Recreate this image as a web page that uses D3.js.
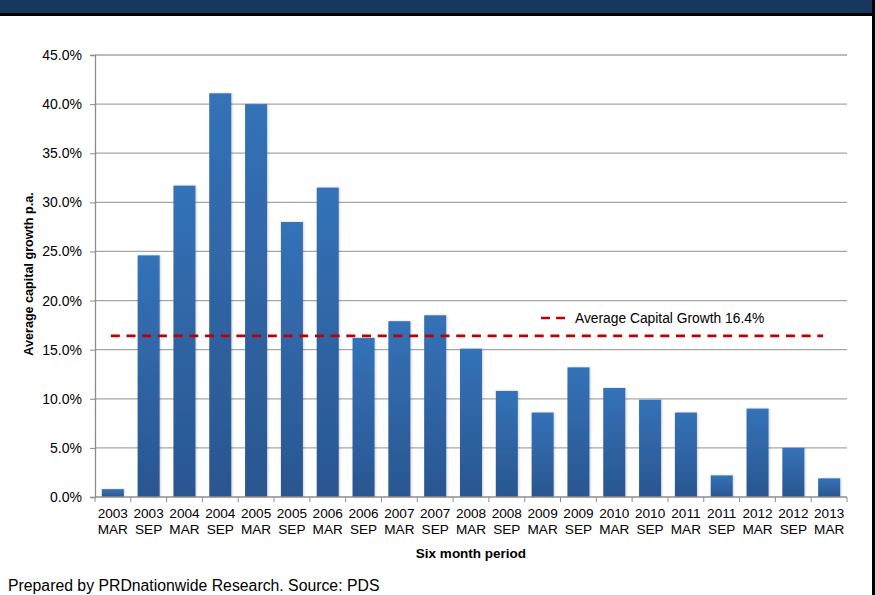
<!DOCTYPE html>
<html>
<head>
<meta charset="utf-8">
<script src="https://cdn.jsdelivr.net/npm/d3@7/dist/d3.min.js"></script>
<style>
  html, body { margin: 0; padding: 0; background: #fff; }
  svg { display: block; font-family: Arial, "Liberation Sans", sans-serif; }
</style>
</head>
<body>
<svg id="chart" width="875" height="595"></svg>
<script>
// Six-month periods (year, month) shown on the x axis
const periodYears  = ["2003","2003","2004","2004","2005","2005","2006","2006","2007","2007","2008",
                      "2008","2009","2009","2010","2010","2011","2011","2012","2012","2013"];
const periodMonths = ["MAR","SEP","MAR","SEP","MAR","SEP","MAR","SEP","MAR","SEP","MAR",
                      "SEP","MAR","SEP","MAR","SEP","MAR","SEP","MAR","SEP","MAR"];
// Average capital growth p.a. (%) for each period
const growthValues = [0.8, 24.6, 31.7, 41.1, 40.0, 28.0, 31.5, 16.2, 17.9, 18.5, 15.1,
                      10.8, 8.6, 13.2, 11.1, 9.9, 8.6, 2.2, 9.0, 5.0, 1.9];
const averageGrowth = 16.4;
const yTicks = [0, 5, 10, 15, 20, 25, 30, 35, 40, 45];

const FONT = "Arial, 'Liberation Sans', sans-serif";
const svg = d3.select("#chart");
const margin = { left: 95, right: 28, top: 55, bottom: 98 };
const W = 875, H = 595;
const plotW = W - margin.left - margin.right;
const plotH = H - margin.top - margin.bottom;

// Header band and frame
svg.append("rect").attr("x", 0).attr("y", 0).attr("width", W).attr("height", 13).attr("fill", "#17375e");
svg.append("rect").attr("x", 0).attr("y", 13).attr("width", W).attr("height", 3).attr("fill", "#000");
svg.append("rect").attr("x", 872).attr("y", 0).attr("width", 3).attr("height", H).attr("fill", "#000");

const defs = svg.append("defs");
const grad = defs.append("linearGradient").attr("id", "barGrad")
  .attr("x1", 0).attr("y1", 0).attr("x2", 0).attr("y2", 1);
grad.append("stop").attr("offset", "0%").attr("stop-color", "#3472b8");
grad.append("stop").attr("offset", "100%").attr("stop-color", "#2a5690");
const shadow = defs.append("filter").attr("id", "barShadow")
  .attr("x", "-30%").attr("y", "-10%").attr("width", "160%").attr("height", "120%");
shadow.append("feDropShadow").attr("dx", 1).attr("dy", 0).attr("stdDeviation", 1.2)
  .attr("flood-color", "#000").attr("flood-opacity", 0.18);

const g = svg.append("g").attr("transform", `translate(${margin.left},${margin.top})`);

const x = d3.scaleBand().domain(d3.range(growthValues.length)).range([0, plotW])
  .paddingInner(0.385).paddingOuter(0.19);
const y = d3.scaleLinear().domain([0, 45]).range([plotH, 0]);

// Horizontal gridlines
g.append("g").selectAll("line").data(yTicks.filter(d => d > 0)).join("line")
  .attr("x1", 0).attr("x2", plotW)
  .attr("y1", d => y(d)).attr("y2", d => y(d))
  .attr("stroke", "#a6a6a6").attr("stroke-width", 1.3);

// Bars
g.append("g").selectAll("rect").data(growthValues).join("rect")
  .attr("x", (d, i) => x(i))
  .attr("y", d => y(d))
  .attr("width", x.bandwidth())
  .attr("height", d => y(0) - y(d))
  .attr("fill", "url(#barGrad)")
  .attr("filter", "url(#barShadow)");

// Y axis
const yAxis = g.append("g")
  .call(d3.axisLeft(y).tickValues(yTicks).tickFormat(d => d.toFixed(1) + "%").tickSize(5).tickPadding(8));
yAxis.attr("font-family", FONT).attr("font-size", 14);
yAxis.select(".domain").attr("stroke", "#8c8c8c").attr("stroke-width", 1.3);
yAxis.selectAll(".tick line").attr("stroke", "#8c8c8c");
yAxis.selectAll(".tick text").attr("fill", "#000");

// X axis line with ticks at category boundaries
const boundaries = d3.range(growthValues.length + 1).map(i => i * plotW / growthValues.length);
const xa = g.append("g").attr("transform", `translate(0,${plotH})`);
xa.append("line").attr("x1", 0).attr("x2", plotW).attr("stroke", "#8c8c8c").attr("stroke-width", 1.3);
xa.selectAll("line.tk").data(boundaries).join("line").attr("class", "tk")
  .attr("x1", d => d).attr("x2", d => d).attr("y1", 0).attr("y2", 5)
  .attr("stroke", "#8c8c8c");

// Two-line category labels
const lbl = xa.selectAll("text.cat").data(growthValues).join("text").attr("class", "cat")
  .attr("text-anchor", "middle").attr("font-size", 13.6).attr("fill", "#000");
lbl.append("tspan").attr("x", (d, i) => x(i) + x.bandwidth() / 2).attr("y", 20.5)
  .text((d, i) => periodYears[i]);
lbl.append("tspan").attr("x", (d, i) => x(i) + x.bandwidth() / 2).attr("y", 36.5)
  .text((d, i) => periodMonths[i]);

// Average line across category centres
const firstC = x(0) + x.bandwidth() / 2;
const lastC = x(growthValues.length - 1) + x.bandwidth() / 2;
g.append("line")
  .attr("x1", firstC - 2).attr("x2", lastC - 6)
  .attr("y1", y(averageGrowth)).attr("y2", y(averageGrowth))
  .attr("stroke", "#c00000").attr("stroke-width", 2.6).attr("stroke-dasharray", "9,6.7");

// Legend
const leg = g.append("g").attr("transform", `translate(${541 - margin.left},${318 - margin.top})`);
leg.append("line").attr("x1", 0).attr("x2", 24).attr("y1", 0).attr("y2", 0)
  .attr("stroke", "#c00000").attr("stroke-width", 2.6).attr("stroke-dasharray", "9,6");
leg.append("text").attr("x", 34).attr("y", 5).attr("font-size", 13.8).attr("fill", "#000")
  .text("Average Capital Growth " + averageGrowth.toFixed(1) + "%");

// Axis titles
svg.append("text").attr("transform", `translate(32.5,${margin.top + plotH / 2 - 2}) rotate(-90)`)
  .attr("text-anchor", "middle").attr("font-size", 12.6).attr("font-weight", "bold")
  .text("Average capital growth p.a.");
svg.append("text").attr("x", margin.left + plotW / 2).attr("y", 558)
  .attr("text-anchor", "middle").attr("font-size", 13.5).attr("font-weight", "bold")
  .text("Six month period");

// Source note
svg.append("text").attr("x", 8).attr("y", 591).attr("font-size", 15.8).attr("fill", "#000")
  .text("Prepared by PRDnationwide Research. Source: PDS");
</script>
</body>
</html>
